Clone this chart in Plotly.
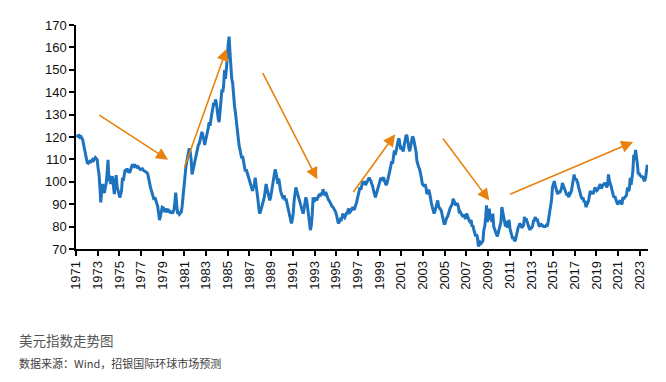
import pandas as pd
import plotly.graph_objects as go

# ---------------- data ----------------
start_month = "1971-01-01"
# US Dollar Index, monthly readings (Jan 1971 - Sep 2023)
dxy = [
    # 1971
    120.8, 120.5, 120.3, 120.6, 119.9, 120.2, 119.6, 118.8, 116.5, 114.0, 112.0, 110.5,
    # 1972
    108.6, 108.3, 108.8, 109.2, 108.9, 109.6, 110.0, 109.5, 110.2, 110.8, 110.3, 109.9,
    # 1973
    106.0, 103.4, 98.0, 90.8, 96.5, 99.0, 96.0, 95.0, 97.5, 99.5, 104.0, 109.8,
    # 1974
    100.3, 101.0, 99.0, 102.0, 101.9, 98.0, 94.5, 99.0, 103.0, 98.0, 96.0, 94.0,
    # 1975
    93.0, 94.5, 96.0, 101.9, 100.5, 103.0, 105.5, 104.5, 106.0, 104.8, 105.0, 104.0,
    # 1976
    105.0, 106.2, 107.7, 107.2, 106.8, 107.3, 107.0, 106.5, 106.8, 106.0, 105.8, 105.5,
    # 1977
    105.5, 105.8, 105.2, 104.9, 105.0, 104.6, 104.1, 103.5, 102.0, 99.5, 97.5, 96.0,
    # 1978
    94.5, 93.5, 92.0, 93.0, 91.5, 90.2, 89.0, 86.0, 82.9, 84.5, 87.5, 88.7,
    # 1979
    88.5, 87.8, 86.5, 87.0, 88.0, 86.5, 87.3, 87.0, 86.0, 87.0, 85.8, 86.5,
    # 1980
    87.5, 91.0, 95.2, 90.0, 85.8, 86.2, 85.5, 86.0, 86.5, 89.0, 94.0, 99.0,
    # 1981
    104.7, 106.0, 108.5, 112.0, 113.0, 114.9, 113.5, 110.0, 103.3, 105.0, 107.0, 109.0,
    # 1982
    112.0, 113.5, 115.0, 116.5, 117.0, 119.5, 120.5, 122.3, 121.0, 119.0, 116.4, 118.0,
    # 1983
    120.0, 122.0, 124.0, 126.6, 125.0, 128.0, 131.0, 133.0, 135.3, 134.0, 136.8, 135.0,
    # 1984
    131.0, 128.0, 126.6, 130.0, 136.0, 141.1, 140.0, 143.0, 149.9, 146.0, 150.0, 155.0,
    # 1985
    161.5, 164.8, 158.0, 148.5, 146.0, 144.1, 138.0, 134.0, 131.0, 128.0, 125.0, 120.0,
    # 1986
    116.4, 114.0, 112.0, 110.5, 111.5, 109.0, 106.0, 104.7, 105.5, 104.0, 103.0, 101.8,
    # 1987
    100.3, 99.0, 97.5, 96.0, 97.5, 99.0, 101.8, 99.0, 96.0, 92.0, 88.0, 85.8,
    # 1988
    87.0, 88.5, 90.0, 91.7, 93.0, 96.0, 99.0, 97.0, 95.0, 93.0, 91.7, 93.0,
    # 1989
    96.0, 98.0, 101.0, 103.0, 105.5, 104.0, 101.0, 99.0, 101.5, 98.0, 96.0, 94.5,
    # 1990
    93.5, 92.5, 94.0, 91.7, 92.5, 90.5, 88.5, 87.3, 86.0, 84.0, 81.4, 83.0,
    # 1991
    86.0, 91.7, 95.0, 97.5, 96.0, 94.5, 93.0, 91.7, 90.0, 88.0, 86.5, 85.8,
    # 1992
    88.0, 91.0, 93.1, 91.5, 89.0, 86.0, 82.0, 78.4, 80.5, 85.0, 93.1, 91.0,
    # 1993
    92.0, 93.0, 91.7, 92.5, 93.5, 94.5, 93.5, 95.0, 94.0, 96.7, 95.0, 94.5,
    # 1994
    95.5, 94.0, 93.1, 92.0, 91.5, 90.5, 89.5, 89.0, 88.7, 88.0, 87.0, 86.5,
    # 1995
    85.0, 83.0, 81.4, 82.0, 83.0, 82.5, 84.0, 85.8, 84.5, 84.0, 85.0, 86.0,
    # 1996
    86.0, 88.0, 87.5, 86.5, 87.0, 88.0, 88.7, 87.5, 88.0, 89.5, 90.5, 92.5,
    # 1997
    94.5, 96.5, 97.5, 96.5, 98.0, 100.3, 99.0, 100.3, 98.5, 99.5, 100.5, 101.0,
    # 1998
    101.8, 101.0, 100.5, 99.0, 98.0, 96.0, 95.0, 93.1, 94.5, 96.0, 97.5, 99.5,
    # 1999
    101.0, 101.8, 100.5, 101.5, 102.0, 100.5, 99.0, 98.5, 99.5, 101.0, 103.0, 105.0,
    # 2000
    107.0, 109.2, 108.0, 111.0, 114.0, 112.0, 115.0, 116.0, 118.0, 119.4, 117.0, 114.5,
    # 2001
    115.0, 114.0, 113.6, 116.5, 118.5, 120.9, 120.5, 117.0, 115.0, 113.6, 116.5, 118.5,
    # 2002
    120.2, 119.5, 118.0, 116.0, 113.5, 109.2, 107.0, 106.5, 105.5, 104.0, 101.5, 99.0,
    # 2003
    98.5, 98.0, 99.0, 97.5, 94.5, 95.5, 96.5, 95.0, 92.0, 90.5, 88.7, 87.0,
    # 2004
    85.8, 87.0, 88.5, 90.0, 91.7, 89.0, 88.5, 88.0, 87.0, 85.0, 83.0, 81.4,
    # 2005
    81.4, 83.0, 84.0, 84.5, 85.5, 87.3, 88.5, 89.0, 90.0, 92.4, 91.5, 90.5,
    # 2006
    89.5, 90.5, 90.0, 88.7, 86.0, 86.5, 85.5, 85.0, 84.4, 85.5, 84.0, 83.5,
    # 2007
    85.8, 84.5, 83.5, 82.5, 82.0, 83.0, 80.0, 80.5, 78.5, 77.5, 75.6, 76.5,
    # 2008
    75.0, 71.2, 72.0, 73.0, 72.5, 72.8, 73.5, 78.5, 80.0, 84.0, 89.5, 82.0,
    # 2009
    86.0, 88.0, 83.0, 84.5, 82.0, 85.8, 80.0, 78.5, 77.5, 76.5, 75.6, 77.5,
    # 2010
    79.5, 80.5, 82.0, 88.7, 86.5, 84.5, 82.0, 80.0, 82.5, 79.5, 81.0, 83.0,
    # 2011
    79.0, 77.2, 76.0, 74.5, 75.5, 73.5, 74.0, 76.5, 78.0, 79.5, 80.5, 81.4,
    # 2012
    80.5, 79.5, 80.0, 80.5, 84.3, 83.0, 83.5, 82.0, 80.0, 79.5, 78.5, 79.5,
    # 2013
    79.5, 80.5, 82.5, 83.0, 84.3, 82.5, 83.5, 81.5, 80.5, 80.0, 81.4, 80.5,
    # 2014
    80.5, 80.0, 80.0, 80.0, 80.5, 80.0, 81.4, 84.0, 86.0, 88.0, 92.0, 97.5,
    # 2015
    99.0, 100.3, 98.5, 96.5, 95.5, 94.5, 96.0, 95.0, 96.0, 97.0, 99.5, 98.5,
    # 2016
    97.5, 96.5, 95.0, 94.0, 94.5, 93.1, 95.5, 95.0, 96.0, 98.5, 101.5, 103.3,
    # 2017
    101.0, 101.5, 100.5, 99.5, 97.5, 96.0, 94.0, 93.0, 92.5, 92.5, 90.9, 91.5,
    # 2018
    88.7, 89.5, 90.0, 91.5, 94.0, 96.0, 94.5, 95.5, 94.5, 96.5, 97.5, 96.5,
    # 2019
    96.0, 96.5, 97.5, 98.0, 99.0, 97.0, 98.0, 98.5, 99.0, 98.5, 99.7, 97.5,
    # 2020
    98.5, 103.3, 100.5, 99.5, 98.0, 96.0, 93.5, 93.0, 93.5, 92.5, 91.5, 90.0,
    # 2021
    90.5, 91.0, 91.7, 90.5, 90.0, 93.1, 92.5, 93.0, 93.5, 94.0, 97.5, 96.0,
    # 2022
    96.5, 101.8, 98.5, 102.0, 104.5, 112.0, 110.0, 114.2, 111.5, 108.0, 103.3, 104.0,
    # 2023
    102.5, 103.0, 101.8, 102.5, 101.0, 100.3, 101.5, 104.5, 107.6,
]
dates = pd.date_range(start=start_month, periods=len(dxy), freq="MS") + pd.Timedelta(days=14)

tick_years = list(range(1971, 2024, 2))
y_ticks = list(range(70, 171, 10))

# trend arrows (tail -> head), in data coordinates
arrow_tail_x = ["1973-01-05", "1980-12-15", "1988-03-01", "1996-06-28", "2004-10-01", "2010-11-25"]
arrow_tail_y = [130.2, 105.7, 149.2, 94.8, 120.0, 94.2]
arrow_head_x = ["1979-07-01", "1984-11-25", "1993-04-05", "2000-06-10", "2009-02-15", "2022-05-25"]
arrow_head_y = [109.8, 159.4, 101.1, 121.2, 91.6, 117.8]

title_text = "美元指数走势图"
source_text = "数据来源：Wind，招银国际环球市场预测"

# ---------------- figure ----------------
fig = go.Figure()
fig.add_trace(go.Scatter(
    x=dates, y=dxy, mode="lines",
    line=dict(color="#1E73BE", width=3),
    hoverinfo="x+y", showlegend=False,
))

for tx, ty, hx, hy in zip(arrow_tail_x, arrow_tail_y, arrow_head_x, arrow_head_y):
    fig.add_annotation(
        x=hx, y=hy, ax=tx, ay=ty, xref="x", yref="y", axref="x", ayref="y",
        text="", showarrow=True, arrowhead=2, arrowsize=1.5, arrowwidth=1.6,
        arrowcolor="#E8820C",
    )

fig.add_annotation(
    text=title_text, xref="paper", yref="paper", x=-0.1031, y=-0.4066,
    xanchor="left", yanchor="middle", showarrow=False,
    font=dict(family="Noto Sans CJK SC", size=13.5, color="#555555"),
)
fig.add_annotation(
    text=source_text, xref="paper", yref="paper", x=-0.1031, y=-0.5088,
    xanchor="left", yanchor="middle", showarrow=False,
    font=dict(family="Noto Sans CJK SC", size=11, color="#404040"),
)

axis_font = dict(family="Arial, Liberation Sans, sans-serif", size=13, color="#111111")
fig.update_xaxes(
    type="date", range=["1971-01-01", "2023-10-08"],
    tickvals=[f"{y}-01-01" for y in tick_years],
    ticktext=[str(y) for y in tick_years],
    tickangle=-90, ticks="outside", ticklen=5, tickwidth=1.5, tickcolor="#000000",
    showline=True, linecolor="#000000", linewidth=1.5,
    showgrid=False, zeroline=False, tickfont=axis_font,
)
fig.update_yaxes(
    range=[70, 170], tickvals=y_ticks,
    ticks="outside", ticklen=5, tickwidth=1.5, tickcolor="#000000",
    showline=True, linecolor="#000000", linewidth=1.5,
    showgrid=False, zeroline=False, tickfont=axis_font,
)
fig.update_layout(
    width=650, height=374,
    margin=dict(l=68, r=10, t=13, b=133),
    plot_bgcolor="#FFFFFF", paper_bgcolor="#FFFFFF",
)

fig.write_html("out.html")
